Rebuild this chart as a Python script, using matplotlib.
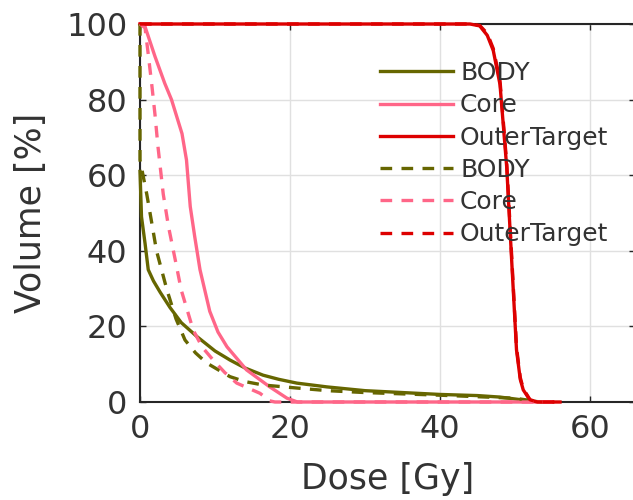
import numpy as np
import matplotlib.pyplot as plt

# DVH curves
body_dose = [0, 0.2, 0.67, 1.1, 1.8, 2.7, 4, 5.5, 7.6, 10, 12, 14, 16.4, 18.5, 20.9, 24.9, 30, 35, 40, 45, 48, 50, 52, 53.5]
body_vol = [61, 49, 42, 35, 32, 29, 25, 21, 17.3, 13.5, 11.1, 9, 7.1, 6, 5, 4, 3, 2.5, 2, 1.7, 1.3, 0.8, 0.3, 0]
core_dose = [0, 0.67, 2, 3.3, 4.2, 5.6, 6.2, 6.7, 7.3, 8, 9.3, 10.4, 11.6, 14.2, 17.3, 19.6, 21, 55]
core_vol = [100, 99.3, 91.4, 84.3, 80, 71, 64, 51.7, 43.7, 35, 24, 18.5, 14.6, 8.5, 4, 1, 0, 0]
outer_dose = [0, 44, 45.3, 46.3, 47.1, 48, 48.9, 49.6, 50.2, 50.7, 51.1, 52, 53, 56]
outer_vol = [100, 100, 99.5, 97, 93, 84, 62, 35.8, 13.8, 6, 3.2, 0.5, 0, 0]

body2_dose = [0, 0, 0.4, 0.9, 1.6, 2.2, 3.6, 4.8, 6, 7.4, 8.9, 12, 14, 16.4, 20.9, 25, 30, 40, 50, 52, 53]
body2_vol = [100, 64, 60, 55, 47, 40, 29.6, 22, 16.4, 13, 10.3, 6.7, 5.4, 4.5, 3.7, 3, 2.5, 1.8, 1, 0.4, 0]
core2_dose = [0, 0.67, 1.1, 1.6, 2, 2.4, 3.1, 3.8, 4.7, 5.5, 7.1, 8.3, 9.8, 11.3, 12.9, 16, 17.3, 18, 55]
core2_vol = [100, 99, 92, 83.4, 76, 67.5, 55, 46.4, 37.6, 29.6, 19, 14.5, 11, 7.8, 5, 2.3, 0.3, 0, 0]
outer2_dose = [0, 44, 45.3, 46.3, 47.1, 48, 48.9, 49.6, 50.2, 50.7, 51.1, 52, 53, 56]
outer2_vol = [100, 100, 99.6, 97.5, 93.5, 85, 63, 37, 14.5, 6.5, 3.5, 0.6, 0, 0]

names = ['BODY', 'Core', 'OuterTarget']
colors = ['#666600', '#ff6688', '#dd0000']

fig = plt.figure(figsize=(6.33, 5), dpi=100)
ax = fig.add_axes([140 / 633, 98 / 500, 495 / 633, 378 / 500])

solid = [(body_dose, body_vol), (core_dose, core_vol), (outer_dose, outer_vol)]
dashed = [(body2_dose, body2_vol), (core2_dose, core2_vol), (outer2_dose, outer2_vol)]
for (d, v), name, c in zip(solid, names, colors):
    ax.plot(d, v, '-', color=c, lw=2.4, label=name, clip_on=False, zorder=3)
for (d, v), name, c in zip(dashed, names, colors):
    ax.plot(d, v, '--', color=c, lw=2.4, label=name, dashes=(3.5, 2.8),
            clip_on=False, zorder=3)

ax.set_xlim(0, 66)
ax.set_ylim(0, 100)
ax.set_xticks([0, 20, 40, 60])
ax.set_yticks([0, 20, 40, 60, 80, 100])
ax.grid(True, color='#e0e0e0', lw=1)
ax.set_axisbelow(True)
ax.tick_params(direction='in', length=4, width=1, top=True, right=True,
               labelsize=23, labelcolor='#333333', color='#262626', pad=9)
for s in ax.spines.values():
    s.set_color('#262626')
    s.set_linewidth(1.5)
ax.set_xlabel('Dose [Gy]', fontsize=25, color='#333333', labelpad=12)
ax.set_ylabel('Volume [%]', fontsize=25, color='#333333', labelpad=13)

ax.legend(loc='upper left', bbox_to_anchor=(0.485, 0.902), frameon=False,
          fontsize=18, handlelength=2.9, handletextpad=0.3, labelspacing=0.33,
          borderpad=0, borderaxespad=0, labelcolor='#333333')

fig.savefig('out.png', dpi=100)
